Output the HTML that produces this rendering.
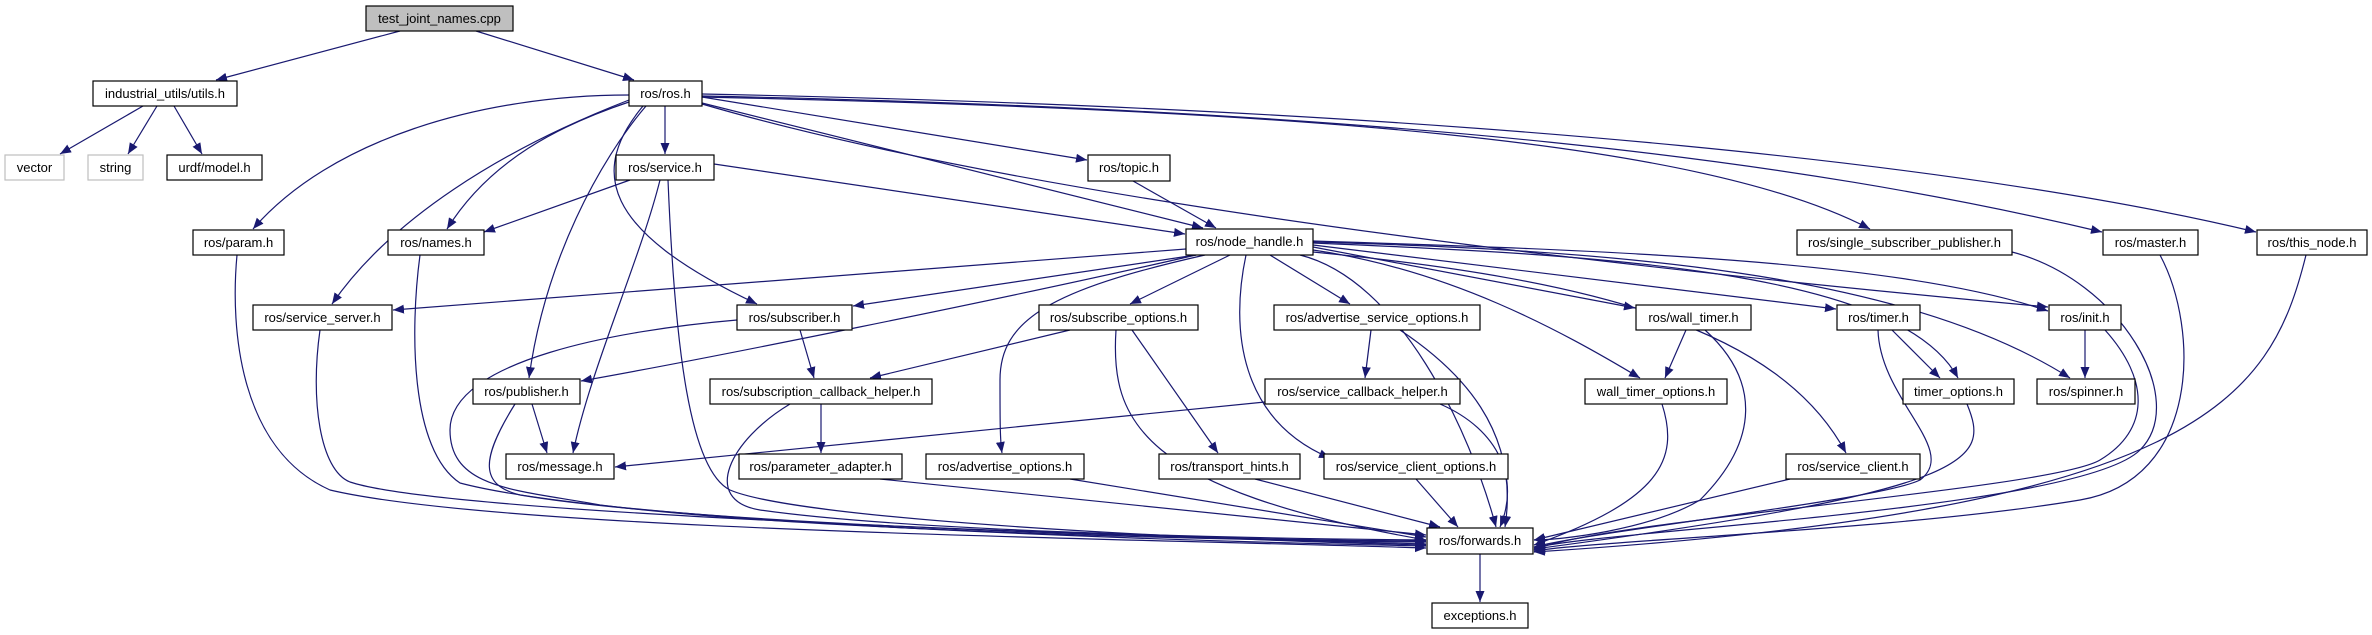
<!DOCTYPE html>
<html><head><meta charset="utf-8"><style>
html,body{margin:0;padding:0;background:#fff;}
svg{display:block;}
text{font-family:"Liberation Sans",sans-serif;font-size:13px;text-anchor:middle;fill:#000;}
.e{fill:none;stroke:#191970;stroke-width:1.2;marker-end:url(#a);}
.n{fill:#fff;stroke:#000;stroke-width:1.2;}
.g{fill:#fff;stroke:#bfbfbf;stroke-width:1.2;}
</style></head><body>
<svg width="2372" height="635" viewBox="0 0 2372 635" xmlns="http://www.w3.org/2000/svg">
<defs><marker id="a" markerUnits="userSpaceOnUse" markerWidth="12" markerHeight="10" refX="11" refY="4.5" orient="auto"><path d="M0,0 L11,4.5 L0,9 z" fill="#191970"/></marker></defs>
<g>
<path class="e" d="M400,31 L216,80"/>
<path class="e" d="M476,31 L634,80"/>
<path class="e" d="M143,106 L60,154"/>
<path class="e" d="M157,106 L128,154"/>
<path class="e" d="M174,106 L202,154"/>
<path class="e" d="M665,106 L665,154"/>
<path class="e" d="M629,95 C480,95 330,140 253,229"/>
<path class="e" d="M629,102 C560,125 490,160 447,229"/>
<path class="e" d="M629,100 C500,150 390,220 332,304"/>
<path class="e" d="M646,106 C600,160 545,260 529,378"/>
<path class="e" d="M643,106 C590,170 600,230 757,304"/>
<path class="e" d="M702,103 L1203,228"/>
<path class="e" d="M714,164 L1185,234"/>
<path class="e" d="M702,97 L1087,160"/>
<path class="e" d="M702,97 C1300,110 1700,140 1870,229"/>
<path class="e" d="M702,96 C1400,110 1800,160 2102,232"/>
<path class="e" d="M702,94 C1500,110 2000,170 2256,232"/>
<path class="e" d="M702,104 Q1100,220 2048,307"/>
<path class="e" d="M630,180 L484,232"/>
<path class="e" d="M660,180 C640,260 590,370 573,453"/>
<path class="e" d="M668,180 C675,350 690,470 730,490 C800,520 1200,540 1426,545"/>
<path class="e" d="M237,255 C230,330 240,450 330,490 C500,530 1100,538 1426,548"/>
<path class="e" d="M420,255 C410,330 410,450 460,483 C600,520 1100,540 1426,546"/>
<path class="e" d="M320,330 C310,400 320,470 350,482 C450,515 1100,535 1426,544"/>
<path class="e" d="M737,320 C620,330 450,360 450,430 C450,490 520,490 600,505 C800,530 1200,540 1426,542"/>
<path class="e" d="M800,330 L814,378"/>
<path class="e" d="M532,404 L547,453"/>
<path class="e" d="M515,404 C480,460 480,485 520,495 C700,525 1200,540 1426,541"/>
<path class="e" d="M821,404 L821,453"/>
<path class="e" d="M790,404 C730,440 700,500 760,510 C900,530 1200,538 1426,540"/>
<path class="e" d="M1186,249 L393,310"/>
<path class="e" d="M1196,255 L853,306"/>
<path class="e" d="M1196,255 C1000,300 700,360 581,381"/>
<path class="e" d="M1230,255 L1130,304"/>
<path class="e" d="M1205,255 C1050,290 1000,320 1000,380 C1000,420 1000,440 1002,453"/>
<path class="e" d="M1270,255 L1350,304"/>
<path class="e" d="M1246,255 C1230,330 1240,420 1330,458"/>
<path class="e" d="M1300,255 C1400,280 1470,430 1496,527"/>
<path class="e" d="M1313,247 L1635,308"/>
<path class="e" d="M1313,250 C1450,270 1560,330 1640,378"/>
<path class="e" d="M1313,245 L1836,309"/>
<path class="e" d="M1313,243 C1600,255 1900,270 1958,378"/>
<path class="e" d="M1313,241 C1600,250 1900,260 2048,311"/>
<path class="e" d="M1313,242 C1600,250 1900,270 2070,378"/>
<path class="e" d="M1313,252 C1600,280 1780,330 1846,453"/>
<path class="e" d="M1070,330 L870,378"/>
<path class="e" d="M1132,330 L1218,453"/>
<path class="e" d="M1116,330 C1110,420 1140,490 1426,540"/>
<path class="e" d="M1371,330 L1365,378"/>
<path class="e" d="M1400,330 C1460,370 1520,430 1505,527"/>
<path class="e" d="M1265,402 L615,467"/>
<path class="e" d="M1440,404 C1500,430 1520,480 1500,527"/>
<path class="e" d="M880,479 L1426,535"/>
<path class="e" d="M1070,479 L1426,537"/>
<path class="e" d="M1255,479 L1440,527"/>
<path class="e" d="M1416,479 L1458,527"/>
<path class="e" d="M1686,330 L1665,378"/>
<path class="e" d="M1705,330 C1760,380 1760,440 1700,500 C1650,530 1560,540 1534,540"/>
<path class="e" d="M1662,404 C1680,460 1660,500 1534,545"/>
<path class="e" d="M1892,330 L1940,378"/>
<path class="e" d="M1878,330 C1880,400 1960,450 1920,480 C1880,500 1600,530 1534,547"/>
<path class="e" d="M1967,404 C1990,460 1980,490 1534,549"/>
<path class="e" d="M2085,330 L2085,378"/>
<path class="e" d="M2105,330 C2150,380 2150,430 2100,460 C2050,490 1600,520 1534,550"/>
<path class="e" d="M1790,479 L1534,540"/>
<path class="e" d="M2012,252 C2120,280 2190,400 2140,450 C2080,510 1600,530 1534,548"/>
<path class="e" d="M2160,255 C2200,330 2200,480 2080,500 C1900,530 1600,540 1534,551"/>
<path class="e" d="M2306,255 C2270,400 2200,510 1534,552"/>
<path class="e" d="M1480,554 L1480,602"/>
<path class="e" d="M1133,181 L1216,228"/>
</g>
<g>
<rect x="366" y="6" width="147" height="25" fill="#bfbfbf" stroke="#000" stroke-width="1.2"/><text x="439.5" y="23">test_joint_names.cpp</text>
<rect class="n" x="93" y="81" width="144" height="25"/><text x="165" y="98">industrial_utils/utils.h</text>
<rect class="n" x="629" y="81" width="73" height="25"/><text x="665.5" y="98">ros/ros.h</text>
<rect class="g" x="5" y="155" width="59" height="25"/><text x="34.5" y="172">vector</text>
<rect class="g" x="88" y="155" width="55" height="25"/><text x="115.5" y="172">string</text>
<rect class="n" x="167" y="155" width="95" height="25"/><text x="214.5" y="172">urdf/model.h</text>
<rect class="n" x="616" y="155" width="98" height="25"/><text x="665" y="172">ros/service.h</text>
<rect class="n" x="1088" y="155" width="82" height="26"/><text x="1129" y="172">ros/topic.h</text>
<rect class="n" x="193" y="230" width="91" height="25"/><text x="238.5" y="247">ros/param.h</text>
<rect class="n" x="388" y="230" width="96" height="25"/><text x="436" y="247">ros/names.h</text>
<rect class="n" x="1186" y="229" width="127" height="26"/><text x="1249.5" y="246">ros/node_handle.h</text>
<rect class="n" x="1797" y="230" width="215" height="25"/><text x="1904.5" y="247">ros/single_subscriber_publisher.h</text>
<rect class="n" x="2103" y="230" width="95" height="25"/><text x="2150.5" y="247">ros/master.h</text>
<rect class="n" x="2257" y="230" width="110" height="25"/><text x="2312" y="247">ros/this_node.h</text>
<rect class="n" x="253" y="305" width="139" height="25"/><text x="322.5" y="322">ros/service_server.h</text>
<rect class="n" x="737" y="305" width="115" height="25"/><text x="794.5" y="322">ros/subscriber.h</text>
<rect class="n" x="1039" y="305" width="159" height="25"/><text x="1118.5" y="322">ros/subscribe_options.h</text>
<rect class="n" x="1274" y="305" width="206" height="25"/><text x="1377" y="322">ros/advertise_service_options.h</text>
<rect class="n" x="1636" y="305" width="115" height="25"/><text x="1693.5" y="322">ros/wall_timer.h</text>
<rect class="n" x="1837" y="305" width="83" height="25"/><text x="1878.5" y="322">ros/timer.h</text>
<rect class="n" x="2049" y="305" width="72" height="25"/><text x="2085" y="322">ros/init.h</text>
<rect class="n" x="473" y="379" width="107" height="25"/><text x="526.5" y="396">ros/publisher.h</text>
<rect class="n" x="710" y="379" width="222" height="25"/><text x="821" y="396">ros/subscription_callback_helper.h</text>
<rect class="n" x="1265" y="379" width="195" height="25"/><text x="1362.5" y="396">ros/service_callback_helper.h</text>
<rect class="n" x="1585" y="379" width="142" height="25"/><text x="1656" y="396">wall_timer_options.h</text>
<rect class="n" x="1903" y="379" width="111" height="25"/><text x="1958.5" y="396">timer_options.h</text>
<rect class="n" x="2037" y="379" width="98" height="25"/><text x="2086" y="396">ros/spinner.h</text>
<rect class="n" x="506" y="454" width="108" height="25"/><text x="560" y="471">ros/message.h</text>
<rect class="n" x="739" y="454" width="163" height="25"/><text x="820.5" y="471">ros/parameter_adapter.h</text>
<rect class="n" x="926" y="454" width="158" height="25"/><text x="1005" y="471">ros/advertise_options.h</text>
<rect class="n" x="1159" y="454" width="141" height="25"/><text x="1229.5" y="471">ros/transport_hints.h</text>
<rect class="n" x="1324" y="454" width="184" height="25"/><text x="1416" y="471">ros/service_client_options.h</text>
<rect class="n" x="1786" y="454" width="134" height="25"/><text x="1853" y="471">ros/service_client.h</text>
<rect class="n" x="1427" y="528" width="106" height="26"/><text x="1480" y="545">ros/forwards.h</text>
<rect class="n" x="1432" y="603" width="96" height="25"/><text x="1480" y="620">exceptions.h</text>
</g>
</svg>
</body></html>
